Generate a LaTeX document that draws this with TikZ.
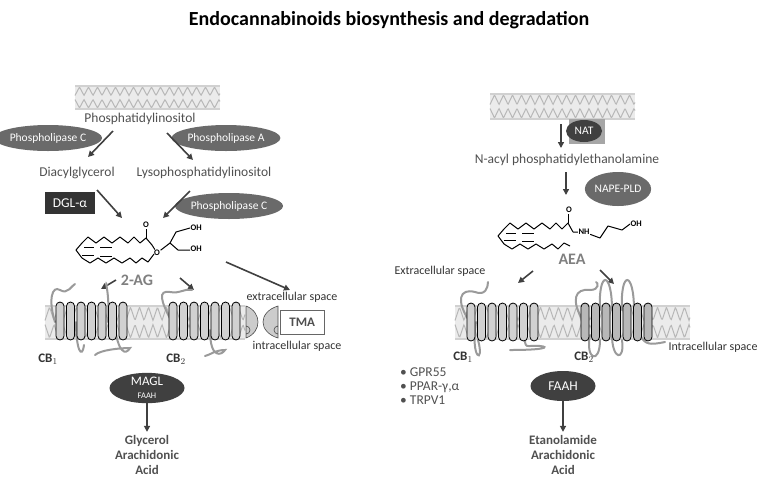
\documentclass[tikz,border=0pt]{standalone}
\usepackage{fontspec}
\setmainfont{Carlito}
\usetikzlibrary{shapes.geometric,arrows.meta}
\definecolor{enz}{HTML}{6A6A6A}
\definecolor{enzd}{HTML}{404040}
\definecolor{txt}{HTML}{505050}
\definecolor{loopc}{HTML}{9A9A9A}
\newcommand{\membr}[4]{%
  \fill[black!8] (#1,#3) rectangle (#2,#4);
  \pgfmathsetmacro{\mid}{(#3+#4)/2}
  \draw[black!28,line width=1pt] plot[domain=#1:#2,samples=240] (\x,{#3+2+(\mid-#3-4)*abs(mod(\x-#1,9)/4.5-1)});
  \draw[black!28,line width=1pt] plot[domain=#1:#2,samples=240] (\x,{#4-2-(#4-\mid-4)*abs(mod(\x-#1,9)/4.5-1)});
  \draw[black!18,line width=2.5pt] (#1,#3+1)--(#2,#3+1) (#1,#4-1)--(#2,#4-1);
}
\newcommand{\helices}[3]{%
  \foreach \i in {0,...,6}{\filldraw[fill=#3,draw=black,line width=0.8pt,rounded corners=4pt] ({#1+\i*10.5-4},{#2-19}) rectangle ({#1+\i*10.5+4},{#2+19});}
}
\tikzset{
  x=1pt,y=-1pt,
  every node/.style={font=\fontsize{13.5}{15}\selectfont,text=txt},
  enzyme/.style={ellipse,fill=enz,text=white,inner sep=0pt,minimum height=26pt,minimum width=95pt,font=\fontsize{11.5}{12}\selectfont},
  arr/.style={-{Triangle[length=6pt,width=6pt]},line width=1.6pt,draw=enzd},
  lp/.style={draw=loopc,line width=2pt,line cap=round},
  bold/.style={font=\bfseries\fontsize{13}{15}\selectfont,text=txt},
  small/.style={font=\fontsize{12}{13}\selectfont,text=black!80},
  mol/.style={draw=black,line width=1pt,line join=round},
  atom/.style={font=\bfseries\fontsize{8.5}{9}\selectfont,text=black,inner sep=0.5pt},
}
\begin{document}
\begin{tikzpicture}
\useasboundingbox (0,0) rectangle (778,499);
\node[font=\bfseries\fontsize{20}{22}\selectfont,text=black] (title) at (389,20) {Endocannabinoids biosynthesis and degradation};
% ===== LEFT =====
\membr{75}{220}{85}{110}
\node (pi) at (140,119) {Phosphatidylinositol};
\node[enzyme] (plc1) at (48,138) {Phospholipase C};
\node[enzyme] (pla) at (226,138) {Phospholipase A};
\coordinate (a1s) at (113,131); \coordinate (a1e) at (88,157);
\coordinate (a2s) at (167,133); \coordinate (a2e) at (193,160);
\draw[arr] (a1s)--(a1e); \draw[arr] (a2s)--(a2e);
\node (dag) at (77,173) {Diacylglycerol};
\node (lpi) at (204,173) {Lysophosphatidylinositol};
\node[fill=black!80,text=white,minimum width=50pt,minimum height=22pt,inner sep=0pt] (dgl) at (70,203) {DGL-α};
\node[enzyme] (plc2) at (229,206) {Phospholipase C};
\coordinate (a3s) at (97,190); \coordinate (a3e) at (122,218);
\coordinate (a4s) at (190,191); \coordinate (a4e) at (163,218);
\draw[arr] (a3s)--(a3e); \draw[arr] (a4s)--(a4e);
% 2-AG molecule
\draw[mol] (82,243)--(88,237)--(96,243)--(104,237)--(112,243)--(120,237)--(128,243)--(134,237)--(140,243)--(146,238)--(152,245);
\draw[mol] (82,243)--(76,250)--(82,258)--(90,263)--(98,258)--(106,263)--(114,258)--(122,263)--(130,258)--(136,263)--(142,258)--(148,262)--(154,254);
\draw[mol] (84,247)--(94,247) (100,247)--(112,247) (82,255)--(94,255) (100,256)--(112,256);
\draw[mol] (146,238)--(146,229);
\node[atom] (o1) at (146,225) {O};
\node[atom] (o2) at (157,253) {O};
\draw[mol] (152,245)--(o2) (o2)--(170,243)--(176,232)--(190,228);
\draw[mol] (170,243)--(178,250)--(190,250);
\node[atom,anchor=west] (oh1) at (190,228) {OH};
\node[atom,anchor=west] (oh2) at (190,249) {OH};
\node[font=\bfseries\fontsize{16}{18}\selectfont,text=gray] (ag) at (137,280) {2-AG};
\coordinate (a5s) at (116,280); \coordinate (a5e) at (101,289);
\coordinate (a6s) at (180,278); \coordinate (a6e) at (194,290);
\coordinate (a7s) at (226,262); \coordinate (a7e) at (290,290);
\draw[arr] (a5s)--(a5e); \draw[arr] (a6s)--(a6e); \draw[arr] (a7s)--(a7e);
\membr{45}{245}{305}{340}
% CB1 left loops
\draw[lp] (55,322) .. controls (48,300) and (52,285) .. (60,290) .. controls (68,295) and (72,285) .. (75,284);
\draw[lp] (76,322) .. controls (76,350) and (82,360) .. (84,345);
\draw[lp] (108,322) .. controls (110,290) and (104,280) .. (107,285);
\draw[lp] (114,322) .. controls (118,355) and (126,355) .. (130,348) .. controls (120,348) and (100,350) .. (95,355);
\helices{60}{321}{black!18}
% CB2 left loops
\draw[lp] (172,322) .. controls (160,300) and (158,290) .. (170,292) .. controls (180,294) and (185,288) .. (192,290);
\draw[lp] (210,330) .. controls (210,360) and (222,355) .. (225,350) .. controls (215,350) and (210,355) .. (205,356);
\helices{173}{321}{black!18}
% TMA
\fill[black!20,draw=black!70,line width=0.6pt] (246,306) .. controls (262,312) and (262,332) .. (246,338) -- (246,326) arc[start angle=-90,end angle=90,radius=4] -- cycle;
\fill[black!20,draw=black!70,line width=0.6pt] (278,306) .. controls (258,312) and (258,332) .. (278,338) -- (278,326) arc[start angle=-90,end angle=-270,radius=4] -- cycle;
\node[draw=black!60,fill=white,minimum width=44pt,minimum height=24pt,inner sep=0pt,bold,anchor=west] (tma) at (280,322) {TMA};
\node[small] (ext1) at (292,297) {extracellular space};
\node[small] (int1) at (297,346) {intracellular space};
\node[bold,text=black!80] (cb1l) at (48,359) {CB$_1$};
\node[bold,text=black!80] (cb2l) at (176,359) {CB$_2$};
\node[ellipse,fill=enzd,minimum width=75pt,minimum height=30pt,inner sep=0pt,align=center,text=white] (magl) at (147,388) {{\fontsize{13}{13}\selectfont MAGL}\\[-2pt]{\fontsize{8.5}{9}\selectfont FAAH}};
\node[bold,align=center] (glyc) at (147,455) {Glycerol\\Arachidonic\\Acid};
\draw[arr] (magl.south)--(glyc.north);
% ===== RIGHT =====
\membr{490}{635}{93}{120}
\fill[black!35] (569,119) rectangle (605,144);
\node[ellipse,fill=enzd,text=white,minimum width=36pt,minimum height=22pt,inner sep=0pt,font=\fontsize{11.5}{12}\selectfont] (nat) at (584,131) {NAT};
\coordinate (b1s) at (561,124); \coordinate (b1e) at (561,148);
\draw[arr] (b1s)--(b1e);
\node (nape) at (567,160) {N-acyl phosphatidylethanolamine};
\node[ellipse,fill=enz,text=white,minimum width=66pt,minimum height=34pt,inner sep=0pt,font=\fontsize{11.5}{12}\selectfont] (napepld) at (618,189) {NAPE-PLD};
\coordinate (b2s) at (566,172); \coordinate (b2e) at (566,195);
\draw[arr] (b2s)--(b2e);
% AEA molecule
\draw[mol] (504,229)--(510,223)--(518,229)--(526,223)--(534,229)--(542,223)--(550,229)--(556,223)--(562,229)--(568,223)--(573,232);
\draw[mol] (504,229)--(498,236)--(504,244)--(512,249)--(520,244)--(528,249)--(536,244)--(544,249)--(552,244)--(558,249)--(564,243)--(570,246);
\draw[mol] (506,233)--(516,233) (522,233)--(534,233) (504,240)--(516,240) (522,241)--(534,241);
\draw[mol] (568,223)--(568,214);
\node[atom] (o3) at (569,210) {O};
\node[atom] (nh) at (584,232) {NH};
\draw[mol] (573,232)--(nh) (nh)--(600,238)--(608,226)--(622,230)--(630,224);
\node[atom,anchor=west] (oh3) at (630,224) {OH};
\node[font=\bfseries\fontsize{16}{18}\selectfont,text=gray] (aea) at (572,259) {AEA};
\node[small] (ext2) at (440,271) {Extracellular space};
\coordinate (b3s) at (533,271); \coordinate (b3e) at (518,283);
\coordinate (b4s) at (600,270); \coordinate (b4e) at (614,284);
\draw[arr] (b3s)--(b3e); \draw[arr] (b4s)--(b4e);
\membr{455}{690}{305}{340}
% CB1 right loops
\draw[lp] (470,322) .. controls (455,300) and (460,288) .. (475,292) .. controls (485,296) and (488,288) .. (488,282);
\draw[lp] (476,322) .. controls (470,360) and (485,365) .. (478,340);
\draw[lp] (525,335) .. controls (525,350) and (525,345) .. (540,346) .. controls (550,347) and (545,350) .. (510,350);
\helices{471}{322}{black!18}
% CB2 right loops
\draw[lp] (584,322) .. controls (570,300) and (575,288) .. (590,290) .. controls (600,290) and (598,282) .. (596,282);
\draw[lp] (600,310) .. controls (598,270) and (612,270) .. (612,310);
\draw[lp] (622,310) .. controls (620,270) and (634,270) .. (634,310);
\draw[lp] (590,335) .. controls (585,360) and (600,365) .. (600,340);
\draw[lp] (612,335) .. controls (612,360) and (625,362) .. (622,340);
\draw[lp] (640,335) .. controls (645,345) and (650,345) .. (665,342);
\helices{585}{322}{black!28}
\node[small] (int2) at (713,347) {Intracellular space};
\node[bold,text=black!80] (cb1r) at (463,357) {CB$_1$};
\node[bold,text=black!80] (cb2r) at (584,357) {CB$_2$};
\node[anchor=west,align=left,inner sep=0pt] (bul) at (400,386) {• GPR55\\[-1pt]• PPAR-γ,α\\[-1pt]• TRPV1};
\node[ellipse,fill=enzd,text=white,minimum width=65pt,minimum height=30pt,inner sep=0pt] (faah) at (563,386) {FAAH};
\node[bold,align=center] (etan) at (563,455) {Etanolamide\\Arachidonic\\Acid};
\draw[arr] (faah.south)--(etan.north);
\end{tikzpicture}
\end{document}
